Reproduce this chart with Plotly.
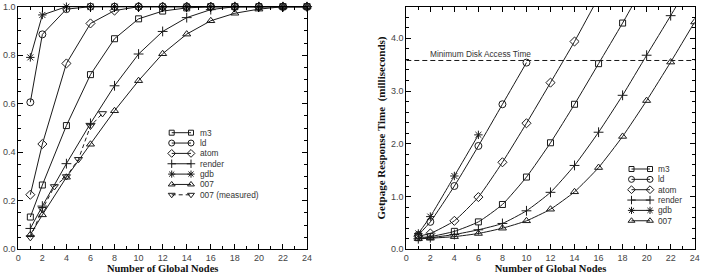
import plotly.graph_objects as go

# ---------------- data: left panel (fraction) ----------------
nodes = [1, 2, 4, 6, 8, 10, 12, 14, 16, 18, 20, 22, 24]
frac_m3 = [0.133, 0.265, 0.51, 0.72, 0.868, 0.95, 0.982, 0.995, 1.0, 1.0, 1.0, 1.0, 1.0]
frac_ld = [0.606, 0.886, 0.99, 1.0, 1.0, 1.0, 1.0, 1.0, 1.0, 1.0, 1.0, 1.0, 1.0]
frac_atom = [0.225, 0.434, 0.766, 0.931, 0.984, 1.0, 1.0, 1.0, 1.0, 1.0, 1.0, 1.0, 1.0]
frac_render = [0.086, 0.178, 0.353, 0.519, 0.674, 0.805, 0.898, 0.955, 0.988, 1.0, 1.0, 1.0, 1.0]
frac_gdb = [0.791, 0.966, 1.0, 1.0, 1.0, 1.0, 1.0, 1.0, 1.0, 1.0, 1.0, 1.0, 1.0]
frac_007 = [0.06, 0.142, 0.297, 0.433, 0.571, 0.695, 0.806, 0.887, 0.942, 0.973, 0.99, 1.0, 1.0]
nodes_meas = [1, 2, 3, 4, 5, 6, 7]
frac_007_meas = [0.049, 0.165, 0.259, 0.30, 0.371, 0.508, 0.56]

# ---------------- data: right panel (getpage response time, ms) ----------------
rt_nodes_m3 = [1, 2, 4, 6, 8, 10, 12, 14, 16, 18, 20]
rt_m3 = [0.22, 0.24, 0.34, 0.52, 0.85, 1.37, 2.02, 2.75, 3.52, 4.29, 5.1]
rt_nodes_ld = [1, 2, 4, 6, 8, 10]
rt_ld = [0.27, 0.52, 1.20, 1.96, 2.75, 3.54]
rt_nodes_atom = [1, 2, 4, 6, 8, 10, 12, 14, 16]
rt_atom = [0.25, 0.30, 0.54, 0.99, 1.65, 2.39, 3.16, 3.94, 4.78]
rt_nodes_render = [1, 2, 4, 6, 8, 10, 12, 14, 16, 18, 20, 22, 24]
rt_render = [0.20, 0.22, 0.28, 0.37, 0.49, 0.73, 1.08, 1.59, 2.22, 2.92, 3.68, 4.43, 5.2]
rt_nodes_gdb = [1, 2, 4, 6]
rt_gdb = [0.30, 0.62, 1.39, 2.17]
rt_nodes_007 = [1, 2, 4, 6, 8, 10, 12, 14, 16, 18, 20, 22, 24]
rt_007 = [0.20, 0.21, 0.24, 0.30, 0.40, 0.54, 0.76, 1.09, 1.55, 2.14, 2.82, 3.55, 4.31]
disk_access_time = 3.58
disk_label = "Minimum Disk Access Time"

series_names = ["m3", "ld", "atom", "render", "gdb", "007", "007 (measured)"]
symbols = ["square-open", "circle-open", "diamond-open", "cross-thin-open",
           "asterisk-open", "triangle-up-open", "triangle-down-open"]
sizes = [6, 7, 7, 7, 7, 7, 7]

W, H = 703, 277
LINE = "#1a1a1a"
TICKFONT = dict(family="Liberation Sans, Arial, sans-serif", size=9, color="#444")
TITLEFONT = dict(family="Liberation Serif, Times New Roman, serif", size=10.5, color="#111")
LEGFONT = dict(family="Liberation Sans, Arial, sans-serif", size=8.3, color="#333")

fig = go.Figure()

left = [(nodes, frac_m3), (nodes, frac_ld), (nodes, frac_atom), (nodes, frac_render),
        (nodes, frac_gdb), (nodes, frac_007), (nodes_meas, frac_007_meas)]
for i, (xs, ys) in enumerate(left):
    fig.add_trace(go.Scatter(
        x=xs, y=ys, mode="lines+markers", xaxis="x", yaxis="y", showlegend=False,
        cliponaxis=False,
        line=dict(color=LINE, width=1, dash="4px,3px" if i == 6 else "solid"),
        marker=dict(symbol=symbols[i], size=sizes[i], color=LINE,
                    line=dict(color=LINE, width=1)),
    ))

right = [(rt_nodes_m3, rt_m3), (rt_nodes_ld, rt_ld), (rt_nodes_atom, rt_atom),
         (rt_nodes_render, rt_render), (rt_nodes_gdb, rt_gdb), (rt_nodes_007, rt_007)]
for i, (xs, ys) in enumerate(right):
    fig.add_trace(go.Scatter(
        x=xs, y=ys, mode="lines+markers", xaxis="x2", yaxis="y2", showlegend=False,
        line=dict(color=LINE, width=1, shape="spline", smoothing=0.5),
        marker=dict(symbol=symbols[i], size=sizes[i], color=LINE,
                    line=dict(color=LINE, width=1)),
    ))

# ---------------- custom legends (pixel overlay axes) ----------------
def draw_legend(names, x_a, x_b, x_text, y0, step):
    for i, name in enumerate(names):
        yy = y0 + i * step
        fig.add_trace(go.Scatter(
            x=[x_a, x_b], y=[yy, yy], mode="lines+markers", xaxis="x3", yaxis="y3",
            showlegend=False, hoverinfo="skip", cliponaxis=False,
            line=dict(color=LINE, width=1, dash="4px,3px" if name == "007 (measured)" else "solid"),
            marker=dict(symbol=symbols[i], size=sizes[i] - 1, color=LINE,
                        line=dict(color=LINE, width=1)),
        ))
        fig.add_annotation(x=x_text, y=yy, xref="x3", yref="y3", text=name,
                           showarrow=False, xanchor="left", yanchor="middle",
                           font=LEGFONT)

draw_legend(series_names, 171.7, 191.0, 197.5, 132.7, 10.35)
draw_legend(series_names[:6], 631.5, 650.0, 655.5, 169.0, 10.35)

# disk access line
fig.add_shape(type="line", xref="x2", yref="y2", x0=0, x1=24,
              y0=disk_access_time, y1=disk_access_time,
              line=dict(color=LINE, width=1, dash="5px,3px"))
fig.add_annotation(x=1.83, y=disk_access_time + 0.12, xref="x2", yref="y2",
                   text=disk_label, showarrow=False, xanchor="left", yanchor="middle",
                   font=LEGFONT)

def axis_common(**kw):
    d = dict(showline=True, linecolor="black", linewidth=1, mirror="ticks",
             ticks="inside", ticklen=5, tickcolor="black", tickwidth=1,
             showgrid=False, zeroline=False, tickfont=TICKFONT, automargin=False,
             fixedrange=True)
    d.update(kw)
    return d

ydom = [1 - 249.3 / H, 1 - 6.7 / H]
xtitle = dict(text="<b>Number of Global Nodes</b>", font=TITLEFONT, standoff=1)

fig.update_layout(
    width=W, height=H, margin=dict(l=0, r=0, t=0, b=0),
    paper_bgcolor="white", plot_bgcolor="rgba(0,0,0,0)",
    showlegend=False,
    xaxis=axis_common(domain=[18.3 / W, 307.0 / W], range=[0, 24], tick0=0, dtick=2,
                      minor=dict(dtick=1, ticks="inside", ticklen=3, tickcolor="black"),
                      anchor="y", title=xtitle),
    yaxis=axis_common(domain=ydom, range=[0, 1], tick0=0, dtick=0.2, tickformat=".1f",
                      minor=dict(dtick=0.05, ticks="inside", ticklen=3, tickcolor="black"),
                      anchor="x"),
    xaxis2=axis_common(domain=[406.3 / W, 694.7 / W], range=[0, 24], tick0=0, dtick=2,
                       minor=dict(dtick=1, ticks="inside", ticklen=3, tickcolor="black"),
                       anchor="y2", title=xtitle),
    yaxis2=axis_common(domain=ydom, range=[0, 4.6], tick0=0, dtick=1, tickformat=".1f",
                       minor=dict(dtick=0.2, ticks="inside", ticklen=3, tickcolor="black"),
                       anchor="x2",
                       title=dict(text="<b>Getpage Response Time\u00a0 (milliseconds)</b>",
                                  font=dict(family="Liberation Serif, Times New Roman, serif",
                                            size=11, color="#111"), standoff=3)),
    xaxis3=dict(domain=[0, 1], range=[0, W], visible=False, fixedrange=True, anchor="y3"),
    yaxis3=dict(domain=[0, 1], range=[H, 0], visible=False, fixedrange=True, anchor="x3"),
)

fig.write_html("out.html")
